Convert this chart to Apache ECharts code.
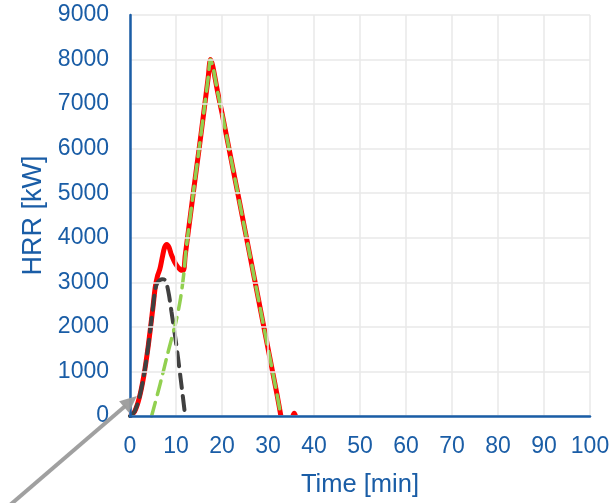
<!DOCTYPE html>
<html>
<head>
<meta charset="utf-8">
<script src="https://cdn.jsdelivr.net/npm/echarts@6/dist/echarts.min.js"></script>
<style>html,body{margin:0;padding:0;background:#fff}#c{width:616px;height:503px}</style>
</head>
<body>
<div id="c"></div>
<script>
// Time [min] and HRR [kW]
const redTime = [0,1,2,3,4,5,5.5,6,6.5,7,7.5,8,8.5,9,10,11,11.6,12,13,14,15,16,17,17.5,18,19,20,22,24,26,28,30,32,32.8,33,35.4,35.7,36];
const redHRR  = [0,100,400,900,1600,2450,2900,3150,3300,3550,3780,3850,3780,3620,3400,3280,3270,3600,4400,5200,5980,6780,7600,8000,7850,7300,6800,5750,4700,3640,2580,1520,460,0,null,0,60,0];

const blackTime = [0,1,2,3,4,5,5.5,6,6.5,7,7.5,8,8.5,9,10,11,12];
const blackHRR  = [0,100,400,900,1600,2450,2850,3000,3050,3070,3060,2950,2700,2350,1650,850,0];

const greenTime = [4.7,6,7,8,9,10,11,11.7,12.2,13,14,15,16,17,17.5,18,19,20,22,24,26,28,30,32,32.8];
const greenHRR  = [0,500,900,1320,1720,2120,2650,3200,3750,4400,5200,5980,6780,7600,8000,7850,7300,6800,5750,4700,3640,2580,1520,460,0];

const xTicks = [0,10,20,30,40,50,60,70,80,90,100];
const yTicks = [0,1000,2000,3000,4000,5000,6000,7000,8000,9000];

const zip = (a,b) => a.map((v,i)=>[v,b[i]]);
const blue = '#1A5DA6';
const font = 'Liberation Sans, Arial, sans-serif';

const chart = echarts.init(document.getElementById('c'), null, {renderer:'canvas'});
chart.setOption({
  animation:false,
  backgroundColor:'#ffffff',
  grid:{left:130, right:26, top:15, bottom:83, containLabel:false},
  xAxis:{
    type:'value', min:xTicks[0], max:xTicks[xTicks.length-1], interval:10, z:5,
    name:'Time [min]', nameLocation:'middle', nameGap:56,
    nameTextStyle:{color:blue, fontSize:25.5, fontFamily:font},
    axisLine:{show:true, onZero:false, lineStyle:{color:blue, width:2.5}},
    axisTick:{show:false},
    axisLabel:{color:blue, fontSize:23, fontFamily:font, margin:19, formatter:v=>String(v)},
    splitLine:{show:true, lineStyle:{color:'#E8E8E8', width:1.5}}
  },
  yAxis:{
    type:'value', min:yTicks[0], max:yTicks[yTicks.length-1], interval:1000, z:5,
    name:'HRR [kW]', nameLocation:'middle', nameGap:80, nameRotate:90,
    nameTextStyle:{color:blue, fontSize:27, fontFamily:font},
    axisLine:{show:true, onZero:false, lineStyle:{color:blue, width:2.5}},
    axisTick:{show:false},
    axisLabel:{color:blue, fontSize:23, fontFamily:font, margin:21, formatter:v=>String(v)},
    splitLine:{show:true, lineStyle:{color:'#E8E8E8', width:1.5}}
  },
  series:[
    {type:'line', data:zip(redTime, redHRR), smooth:0.3, showSymbol:false, z:2, connectNulls:false,
     lineStyle:{color:'#FF0000', width:5}},
    {type:'line', data:zip(blackTime, blackHRR), smooth:0.3, showSymbol:false, z:3,
     lineStyle:{color:'#404040', width:4, type:[14,8], cap:'round'}},
    {type:'line', data:zip(greenTime, greenHRR), smooth:0.3, showSymbol:false, z:4,
     lineStyle:{color:'#92D050', width:3.5, type:[14,8], cap:'round'}}
  ]
});

// annotation arrow pointing at the start of the curve
const tip = chart.convertToPixel({gridIndex:0}, [1.5, 450]);
const start = [10, 505];
const dx = tip[0]-start[0], dy = tip[1]-start[1];
const L = Math.sqrt(dx*dx+dy*dy), ux = dx/L, uy = dy/L;
const hl = 17, hw = 7.5;
const bx = tip[0]-ux*hl, by = tip[1]-uy*hl;
chart.setOption({
  graphic:[
    {type:'line', z:100, shape:{x1:start[0], y1:start[1], x2:bx+ux*2, y2:by+uy*2},
     style:{stroke:'#9B9B9B', lineWidth:4, opacity:0.95}},
    {type:'polygon', z:100, shape:{points:[[tip[0],tip[1]],[bx - uy*hw, by + ux*hw],[bx + uy*hw, by - ux*hw]]},
     style:{fill:'#9B9B9B', opacity:0.95}}
  ]
});
</script>
</body>
</html>
